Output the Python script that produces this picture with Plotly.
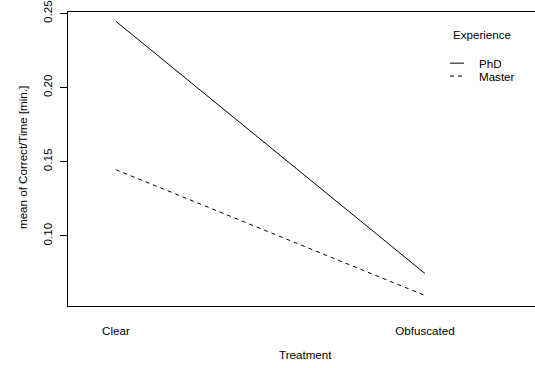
import plotly.graph_objects as go

# Mean of Correct/Time [min.] by treatment, one line per experience level
treatments = ["Clear", "Obfuscated"]
experience = ["PhD", "Master"]
phd_means = [0.2446, 0.0746]
master_means = [0.1446, 0.0598]
y_ticks = [0.10, 0.15, 0.20, 0.25]

W, H = 535, 368
L, R, T, B = 68, 0, 10, 62
FONT = "Liberation Sans, Arial, Helvetica, sans-serif"
FS = 11.6

x_pos = list(range(1, len(treatments) + 1))
x_range = [0.845, 2.356]
y_range = [0.0527, 0.2509]

fig = go.Figure()
fig.add_trace(go.Scatter(x=x_pos, y=phd_means, mode="lines", name=experience[0],
                         line=dict(color="black", width=1, dash="solid")))
fig.add_trace(go.Scatter(x=x_pos, y=master_means, mode="lines", name=experience[1],
                         line=dict(color="black", width=1, dash="4px,4px")))

# Legend drawn by hand, R style
pw, ph = W - L - R, H - T - B
def px(xp):
    return (xp - L) / pw
def py(yp):
    return (H - B - yp) / ph

fig.add_annotation(x=px(451), y=py(33), xref="paper", yref="paper", text="Experience",
                   showarrow=False, xanchor="left", yanchor="middle",
                   font=dict(size=FS, color="black", family=FONT))
for name, yy, dash in [(experience[0], 61.5, "solid"), (experience[1], 74.5, "4px,4px")]:
    fig.add_shape(type="line", xref="paper", yref="paper", x0=px(450), x1=px(464),
                  y0=py(yy), y1=py(yy), line=dict(color="black", width=1, dash=dash))
    fig.add_annotation(x=px(478), y=py(yy), xref="paper", yref="paper", text=name,
                       showarrow=False, xanchor="left", yanchor="middle", borderpad=0,
                       font=dict(size=FS, color="black", family=FONT))

# Axis titles
fig.add_annotation(x=(305 - L) / pw, y=py(355), xref="paper", yref="paper", text="Treatment",
                   showarrow=False, xanchor="center", yanchor="middle",
                   font=dict(size=FS, color="black", family=FONT))
fig.add_annotation(x=px(22), y=py(157), xref="paper", yref="paper",
                   text="mean of Correct/Time [min.]", textangle=-90,
                   showarrow=False, xanchor="center", yanchor="middle",
                   font=dict(size=FS, color="black", family=FONT))

fig.update_layout(
    width=W, height=H,
    margin=dict(l=L, r=R, t=T, b=B),
    paper_bgcolor="white", plot_bgcolor="white",
    showlegend=False,
    font=dict(family=FONT, size=FS, color="black"),
    xaxis=dict(range=x_range, tickmode="array", tickvals=x_pos, ticktext=treatments,
               showgrid=False, zeroline=False, showline=True, linecolor="black",
               linewidth=1, mirror=True, ticks="outside", ticklen=14,
               tickcolor="rgba(0,0,0,0)", tickfont=dict(size=FS, family=FONT)),
    yaxis=dict(range=y_range, tickmode="array", tickvals=y_ticks,
               ticktext=[f"{v:.2f}" for v in y_ticks], tickangle=-90,
               ticklabeloverflow="allow", ticklabelstandoff=3,
               showgrid=False, zeroline=False, showline=True, linecolor="black",
               linewidth=1, ticks="outside", ticklen=7, tickcolor="black",
               tickfont=dict(size=FS, family=FONT)),
)

fig.write_html("out.html")
